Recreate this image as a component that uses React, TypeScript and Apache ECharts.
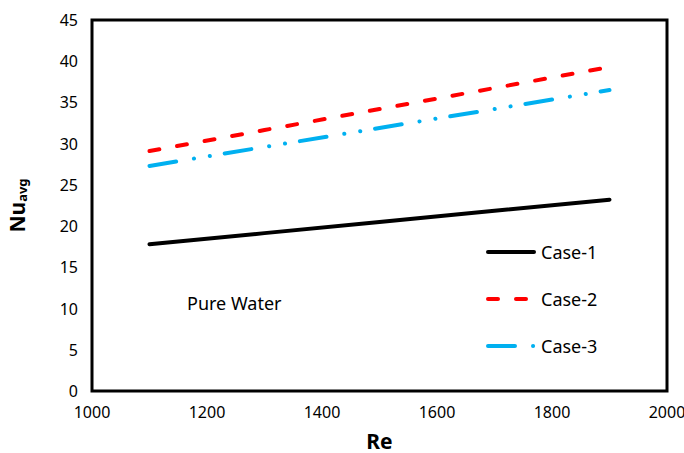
import React, { useEffect, useRef } from "react";
import * as echarts from "echarts";

const reValues = [1100, 1300, 1500, 1700, 1900];
const case1 = [17.8, 19.15, 20.5, 21.85, 23.2];
const case2 = [29.1, 31.65, 34.2, 36.75, 39.3];
const case3 = [27.3, 29.6, 31.9, 34.2, 36.5];
const seriesNames = ["Case-1", "Case-2", "Case-3"];
const annotation = "Pure Water";

const FONT = "'Noto Sans', 'Liberation Sans', sans-serif";

export default function App() {
  const ref = useRef<HTMLDivElement>(null);
  useEffect(() => {
    if (!ref.current) return;
    const chart = echarts.init(ref.current, null, { renderer: "svg" });
    const pair = (ys: number[]) => reValues.map((x, i) => [x, ys[i]]);
    chart.setOption({
      animation: false,
      backgroundColor: "#ffffff",
      grid: {
        left: 92,
        top: 20,
        right: 17,
        bottom: 62,
        show: true,
        borderColor: "#000000",
        borderWidth: 3,
        backgroundColor: "transparent",
        outerBoundsMode: "none",
        containLabel: false,
      },
      xAxis: {
        type: "value",
        min: 1000,
        max: 2000,
        interval: 200,
        name: "Re",
        nameLocation: "middle",
        nameGap: 39,
        nameTextStyle: { fontFamily: FONT, fontWeight: "bold", fontSize: 21, color: "#000" },
        axisLine: { show: false },
        axisTick: { show: false },
        splitLine: { show: false },
        axisLabel: { fontFamily: FONT, fontSize: 16, color: "#000", margin: 13, formatter: (v: number) => String(v) },
      },
      yAxis: {
        type: "value",
        min: 0,
        max: 45,
        interval: 5,
        name: "{a|Nu}{b|avg}",
        nameLocation: "middle",
        nameGap: 64,
        nameRotate: 90,
        nameTextStyle: {
          rich: {
            a: { fontFamily: FONT, fontWeight: "bold", fontSize: 21, color: "#000" },
            b: { fontFamily: FONT, fontWeight: "bold", fontSize: 13, color: "#000", padding: [10, 0, 0, 0] },
          },
        },
        axisLine: { show: false },
        axisTick: { show: false },
        splitLine: { show: false },
        axisLabel: { fontFamily: FONT, fontSize: 16, color: "#000", margin: 14 },
      },
      legend: {
        orient: "vertical",
        left: 486,
        top: 243,
        padding: 0,
        itemWidth: 46,
        itemHeight: 17,
        itemGap: 29,
        itemStyle: { opacity: 0 },
        lineStyle: { width: 4, cap: "round" },
        textStyle: { fontFamily: FONT, fontSize: 18, color: "#000", padding: [0, 0, 0, 2] },
        data: seriesNames,
      },
      graphic: [
        {
          type: "text",
          left: 187,
          top: 294,
          style: { text: annotation, fontFamily: FONT, fontSize: 18, fill: "#000" },
        },
      ],
      series: [
        {
          name: seriesNames[0],
          type: "line",
          data: pair(case1),
          symbol: "none",
          lineStyle: { color: "#000000", width: 4, cap: "round" },
          itemStyle: { color: "#000000" },
        },
        {
          name: seriesNames[1],
          type: "line",
          data: pair(case2),
          symbol: "none",
          lineStyle: { color: "#ff0000", width: 4, type: [10, 18], cap: "round" },
          itemStyle: { color: "#ff0000" },
        },
        {
          name: seriesNames[2],
          type: "line",
          data: pair(case3),
          symbol: "none",
          lineStyle: { color: "#00b0f0", width: 4, type: [27, 18, 0.1, 16, 0.1, 15], cap: "round" },
          itemStyle: { color: "#00b0f0" },
        },
      ],
    });
    return () => chart.dispose();
  }, []);
  return <div ref={ref} style={{ width: 684, height: 453, position: "fixed", left: 0, top: 0 }} />;
}
